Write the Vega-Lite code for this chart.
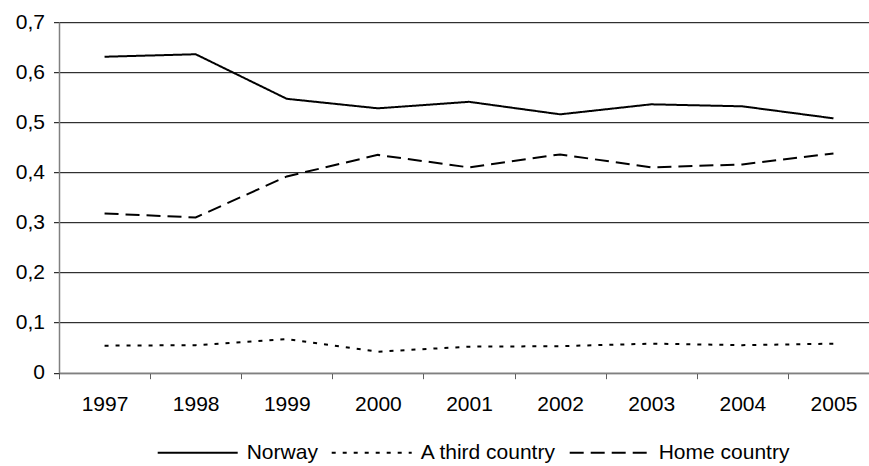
{
  "$schema": "https://vega.github.io/schema/vega-lite/v6.json",
  "width": 810,
  "height": 350.5,
  "autosize": {"type": "none"},
  "padding": {"left": 59, "top": 22.2, "right": 0, "bottom": 93.3},
  "background": "white",
  "config": {"view": {"stroke": null}, "font": "Liberation Sans"},
  "data": {
    "values": [
      {"year": 1997, "series": "Norway", "value": 0.631},
      {"year": 1998, "series": "Norway", "value": 0.636},
      {"year": 1999, "series": "Norway", "value": 0.547},
      {"year": 2000, "series": "Norway", "value": 0.528},
      {"year": 2001, "series": "Norway", "value": 0.541},
      {"year": 2002, "series": "Norway", "value": 0.516},
      {"year": 2003, "series": "Norway", "value": 0.536},
      {"year": 2004, "series": "Norway", "value": 0.532},
      {"year": 2005, "series": "Norway", "value": 0.508},
      {"year": 1997, "series": "A third country", "value": 0.054},
      {"year": 1998, "series": "A third country", "value": 0.055},
      {"year": 1999, "series": "A third country", "value": 0.067},
      {"year": 2000, "series": "A third country", "value": 0.042},
      {"year": 2001, "series": "A third country", "value": 0.052},
      {"year": 2002, "series": "A third country", "value": 0.053},
      {"year": 2003, "series": "A third country", "value": 0.058},
      {"year": 2004, "series": "A third country", "value": 0.055},
      {"year": 2005, "series": "A third country", "value": 0.058},
      {"year": 1997, "series": "Home country", "value": 0.318},
      {"year": 1998, "series": "Home country", "value": 0.310},
      {"year": 1999, "series": "Home country", "value": 0.392},
      {"year": 2000, "series": "Home country", "value": 0.435},
      {"year": 2001, "series": "Home country", "value": 0.410},
      {"year": 2002, "series": "Home country", "value": 0.436},
      {"year": 2003, "series": "Home country", "value": 0.410},
      {"year": 2004, "series": "Home country", "value": 0.416},
      {"year": 2005, "series": "Home country", "value": 0.438}
    ]
  },
  "mark": {"type": "line", "strokeWidth": 2, "color": "black"},
  "encoding": {
    "x": {
      "field": "year",
      "type": "quantitative",
      "scale": {"domain": [1996.5, 2005.39], "nice": false, "zero": false},
      "axis": {
        "title": null,
        "values": [1996.5, 1997.5, 1998.5, 1999.5, 2000.5, 2001.5, 2002.5, 2003.5, 2004.5],
        "labelExpr": "format(datum.value + 0.5, 'd')",
        "labelOffset": 45.55,
        "labelFlush": false,
        "labelOverlap": false,
        "labelBound": false,
        "grid": false,
        "tickSize": 6,
        "tickColor": "#606060",
        "domainColor": "#808080",
        "domainWidth": 1.5,
        "labelFontSize": 21,
        "labelColor": "black",
        "labelPadding": 15
      }
    },
    "y": {
      "field": "value",
      "type": "quantitative",
      "scale": {"domain": [0, 0.7], "nice": false},
      "axis": {
        "title": null,
        "values": [0, 0.1, 0.2, 0.3, 0.4, 0.5, 0.6, 0.7],
        "labelExpr": "datum.value == 0 ? '0' : replace(format(datum.value, '.1f'), '.', ',')",
        "grid": true,
        "gridColor": "black",
        "gridWidth": 1,
        "gridOpacity": 1,
        "tickSize": 5.5,
        "tickColor": "black",
        "domainColor": "#808080",
        "domainWidth": 1.5,
        "labelFontSize": 21,
        "labelColor": "black",
        "labelPadding": 9
      }
    },
    "strokeDash": {
      "field": "series",
      "type": "nominal",
      "scale": {
        "domain": ["Norway", "A third country", "Home country"],
        "range": [[1, 0], [4, 7], [14, 7]]
      },
      "legend": {
        "title": null,
        "orient": "none",
        "legendX": 97.7,
        "legendY": 389.5,
        "direction": "horizontal",
        "symbolType": "stroke",
        "symbolSize": 6400,
        "symbolStrokeWidth": 2,
        "symbolStrokeColor": "black",
        "labelFontSize": 21,
        "labelColor": "black",
        "labelOffset": 8,
        "columnPadding": 9,
        "padding": 0,
        "labelLimit": 300
      }
    }
  }
}
